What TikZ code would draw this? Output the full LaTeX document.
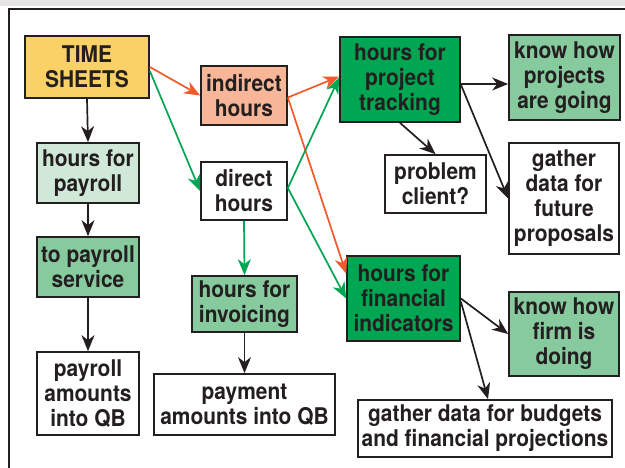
\documentclass[tikz,border=0pt]{standalone}
\usepackage{fontspec}
\setmainfont{TeX Gyre Heros}[FakeStretch=0.91]
\usetikzlibrary{arrows.meta,calc}
\definecolor{linec}{HTML}{231F20}
\definecolor{yel}{HTML}{FAD166}
\definecolor{salmon}{HTML}{F7B697}
\definecolor{pale}{HTML}{CFE8D8}
\definecolor{midg}{HTML}{86CA9E}
\definecolor{darkg}{HTML}{00A651}
\definecolor{redc}{HTML}{F15A29}
\definecolor{greenc}{HTML}{00A651}
\tikzset{
  box/.style={draw=linec, line width=1.7pt, align=center, inner sep=0pt,
    font=\fontsize{23}{25}\selectfont\bfseries, text=linec},
  conn/.style={line width=1.7pt, -{Stealth[length=16pt,width=13pt,inset=5pt]}},
  blk/.style={conn, draw=linec, color=linec},
  red/.style={conn, draw=redc, color=redc},
  grn/.style={conn, draw=greenc, color=greenc},
}
\begin{document}
\begin{tikzpicture}[x=1pt,y=-1pt]
\useasboundingbox (0,0) rectangle (625,468);
\fill[white] (0,0) rectangle (625,468);
\fill[black!10] (0,0) rectangle (625,6);
\draw[linec, line width=2.2pt] (9,468) -- (9,9) -- (625,9);

\node[box, fill=yel, minimum width=124pt, minimum height=62pt] (ts) at (87,67) {TIME\\SHEETS};
\node[box, fill=salmon, minimum width=86pt, minimum height=59pt] (ind) at (244,95.5) {indirect\\hours};
\node[box, fill=white, minimum width=86pt, minimum height=58pt] (dir) at (244,191) {direct\\hours};
\node[box, fill=midg, minimum width=105pt, minimum height=56pt] (inv) at (244.5,304) {hours for\\invoicing};
\node[box, fill=white, minimum width=181pt, minimum height=61pt] (pay) at (244.5,404.5) {payment\\amounts into QB};
\node[box, fill=pale, minimum width=102pt, minimum height=60pt] (hp) at (88,173) {hours for\\payroll};
\node[box, fill=midg, minimum width=102pt, minimum height=60pt] (tps) at (88,267) {to payroll\\service};
\node[box, fill=white, minimum width=102pt, minimum height=83pt] (pa) at (88,393.5) {payroll\\amounts\\into QB};
\node[box, fill=darkg, minimum width=120pt, minimum height=85pt] (pt) at (400,79.5) {hours for\\project\\tracking};
\node[box, fill=midg, minimum width=111pt, minimum height=85pt] (kp) at (564.5,77.5) {know how\\projects\\are going};
\node[box, fill=white, minimum width=101pt, minimum height=58pt] (pc) at (435.5,184) {problem\\client?};
\node[box, fill=white, minimum width=110pt, minimum height=111pt] (gf) at (564,198.5) {gather\\data for\\future\\proposals};
\node[box, fill=darkg, minimum width=113pt, minimum height=85pt] (fi) at (403.5,298.5) {hours for\\financial\\indicators};
\node[box, fill=midg, minimum width=110pt, minimum height=84pt] (kf) at (564,334) {know how\\firm is\\doing};
\node[box, fill=white, minimum width=254pt, minimum height=57pt] (gb) at (485,428.5) {gather data for budgets\\and financial projections};

% left column
\draw[blk] (ts.south) -- (hp.north);
\draw[blk] (hp.south) -- (tps.north);
\draw[blk] (tps.south) -- (pa.north);
% from time sheets
\draw[red] (ts.east) -- (ind.west);
\draw[grn] ([yshift=-4pt]ts.east) -- (dir.west);
% indirect
\draw[red] ([yshift=-2pt]ind.east) -- ([yshift=3pt]pt.west);
\draw[red] ([yshift=-2pt]ind.east) -- ([yshift=25pt]fi.west);
% direct
\draw[grn] ([yshift=3pt]dir.east) -- ([yshift=2pt]pt.west);
\draw[grn] ([yshift=3pt]dir.east) -- (fi.west);
\draw[grn] (dir.south) -- (inv.north);
\draw[blk] (inv.south) -- (pay.north);
% project tracking
\coordinate (pe) at ([yshift=-4.5pt]pt.east);
\draw[blk] (pe) -- (pe -| kp.west);
\draw[blk] (pt.south) -- (pc.north);
\draw[blk] ([yshift=-5pt]pt.east) -- (gf.west);
% financial
\draw[blk] (fi.east) -- (kf.west);
\draw[blk] ([yshift=-3pt]fi.east) -- ([xshift=3pt]gb.north);
\end{tikzpicture}
\end{document}
